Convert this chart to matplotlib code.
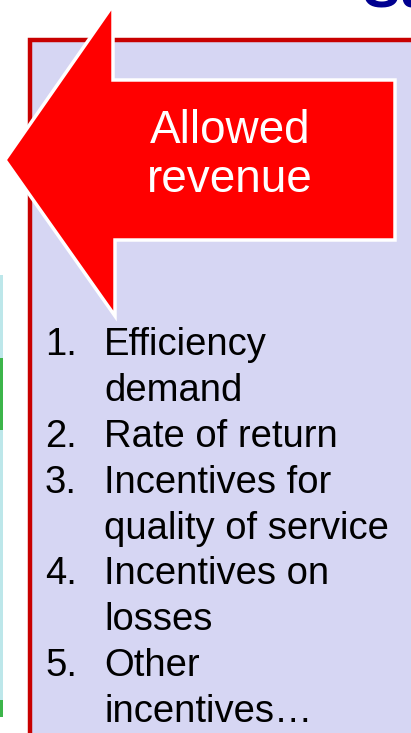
import matplotlib
matplotlib.use('Agg')
import matplotlib.pyplot as plt
from matplotlib.patches import Polygon, Rectangle

plt.rcParams['font.family'] = ['Liberation Sans', 'DejaVu Sans']

# slide content
arrow_label = ['Allowed', 'revenue']
item_numbers = ['1.', '2.', '3.', '4.', '5.']
item_lines = [['Efficiency', 'demand'],
              ['Rate of return'],
              ['Incentives for', 'quality of service'],
              ['Incentives on', 'losses'],
              ['Other', 'incentives\u2026']]
title_fragment = 'Su'

fig = plt.figure(figsize=(4.11, 7.33), dpi=100)
ax = fig.add_axes([0, 0, 1, 1])
ax.set_xlim(0, 411)
ax.set_ylim(733, 0)
ax.axis('off')

# left neighbouring panel (mostly cropped)
ax.add_patch(Rectangle((0, 275), 3, 442, facecolor='#BDE7EA', edgecolor='none'))
ax.add_patch(Rectangle((0, 358), 3, 72, facecolor='#3CB54A', edgecolor='none'))
ax.add_patch(Rectangle((0, 700), 3, 17, facecolor='#3CB54A', edgecolor='none'))

# lavender box with red frame
ax.add_patch(Rectangle((30, 40), 400, 720, facecolor='#D6D6F3',
                       edgecolor='#C80000', linewidth=3.2))

# title fragment at the top (slide title is cropped by the frame)
ax.text(362, 8, title_fragment, color='#000090', fontsize=40, fontweight='bold',
        ha='left', va='baseline')

# big left arrow
arrow = Polygon([(5, 160), (113, 5), (113, 80), (395, 80), (395, 240),
                 (115, 240), (115, 316)], closed=True,
                facecolor='#FF0000', edgecolor='white', linewidth=2.5,
                joinstyle='miter')
ax.add_patch(arrow)
ax.text(230, 131, arrow_label[0], color='white', fontsize=33, ha='center', va='center')
ax.text(230, 180, arrow_label[1], color='white', fontsize=33, ha='center', va='center')

# numbered list
y = 345
step = 45.9
for num, lines in zip(item_numbers, item_lines):
    ax.text(45, y, num, fontsize=27.5, color='black', ha='left', va='center')
    for line in lines:
        ax.text(104, y, line, fontsize=27.5, color='black', ha='left', va='center')
        y += step

fig.savefig('out.png', dpi=100)
